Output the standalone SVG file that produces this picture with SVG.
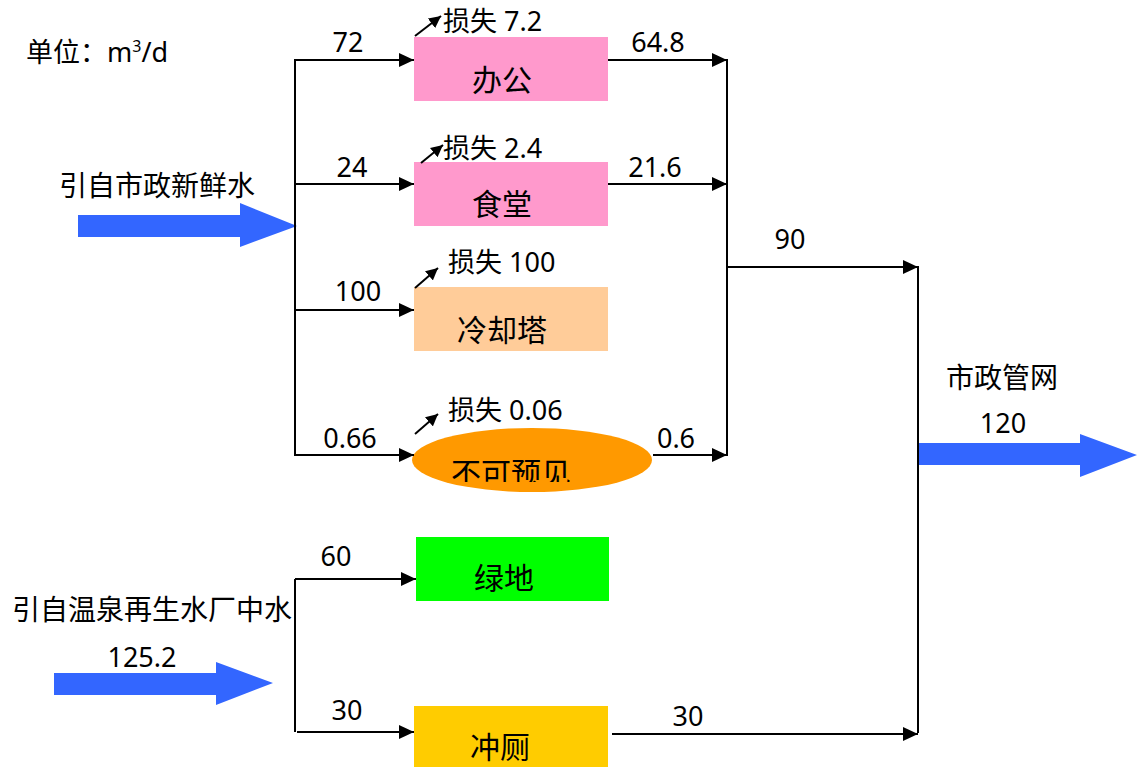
<svg xmlns="http://www.w3.org/2000/svg" width="1137" height="767" viewBox="0 0 1137 767">
<defs>
<marker id="ah" markerUnits="userSpaceOnUse" markerWidth="15" markerHeight="14" refX="15" refY="7" orient="auto"><path d="M0,0 L15,7 L0,14 z" fill="#000"/></marker>
<marker id="ahs" markerUnits="userSpaceOnUse" markerWidth="12" markerHeight="12" refX="12" refY="6" orient="auto"><path d="M0,0 L12,6 L0,12 z" fill="#000"/></marker>
<clipPath id="ellclip"><rect x="400" y="420" width="260" height="62"/></clipPath>
<style>
text{font-family:"Noto Sans","Noto Sans CJK SC",sans-serif;font-size:27px;fill:#000}
.cn{font-size:28px}
.bx{font-size:30px}
.box{stroke:none}
.ln{fill:none;stroke:#000;stroke-width:2}
.blue{fill:#3366FF}
.mid{text-anchor:middle}
</style>
</defs>
<rect width="1137" height="767" fill="#fff"/>

<text x="26" y="62" font-size="26">单位：m<tspan font-size="16" dy="-10">3</tspan><tspan dy="10">/d</tspan></text>

<g id="source-fresh">
<text x="59" y="196" class="cn">引自市政新鲜水</text>
<path class="blue" d="M78,215 L240,215 L240,203 L297,226 L240,247 L240,237 L78,237 z"/>
</g>

<g id="source-reclaimed">
<text x="12" y="620" class="cn">引自温泉再生水厂中水</text>
<text x="142" y="667" class="mid">125.2</text>
<path class="blue" d="M54,673 L216,673 L216,662 L273,683 L216,705 L216,695 L54,695 z"/>
</g>

<g id="sink-municipal">
<text x="1002" y="388" class="cn mid">市政管网</text>
<text x="1003" y="433" class="mid">120</text>
<path class="blue" d="M918,443 L1080,443 L1080,434 L1137,455 L1080,477 L1080,465 L918,465 z"/>
</g>

<g id="node-office">
<rect class="box" x="414" y="37" width="194" height="64" fill="#FF99CC"/>
<text x="502" y="91" class="bx mid">办公</text>
</g>
<g id="node-canteen">
<rect class="box" x="414" y="162" width="194" height="64" fill="#FF99CC"/>
<text x="502" y="215" class="bx mid">食堂</text>
</g>
<g id="node-cooling">
<rect class="box" x="414" y="287" width="194" height="64" fill="#FFCC99"/>
<text x="502" y="341" class="bx mid">冷却塔</text>
</g>
<g id="node-unforeseen">
<ellipse cx="532" cy="460" rx="120" ry="32" fill="#FF9900"/>
<text x="511" y="484" class="bx mid" clip-path="url(#ellclip)">不可预见</text>
</g>
<g id="node-green">
<rect class="box" x="416" y="537" width="193" height="64" fill="#00FF00"/>
<text x="504" y="589" class="bx mid">绿地</text>
</g>
<g id="node-toilet">
<rect class="box" x="414" y="706" width="194" height="64" fill="#FFCC00"/>
<text x="500" y="758" class="bx mid">冲厕</text>
</g>

<g id="connectors">
<path class="ln" d="M295,59 L295,456"/>
<path class="ln" d="M295,60 L414,60" marker-end="url(#ah)"/>
<path class="ln" d="M295,184 L414,184" marker-end="url(#ah)"/>
<path class="ln" d="M295,310 L414,310" marker-end="url(#ah)"/>
<path class="ln" d="M295,455 L414,455" marker-end="url(#ah)"/>

<path class="ln" d="M727,59 L727,456"/>
<path class="ln" d="M608,60 L727,60" marker-end="url(#ah)"/>
<path class="ln" d="M608,184 L727,184" marker-end="url(#ah)"/>
<path class="ln" d="M653,455 L727,455" marker-end="url(#ah)"/>
<path class="ln" d="M727,267 L918,267" marker-end="url(#ah)"/>
<path class="ln" d="M918,266 L918,733"/>
<path class="ln" d="M612,734 L918,734" marker-end="url(#ah)"/>

<path class="ln" d="M295,579 L295,732"/>
<path class="ln" d="M295,579 L416,579" marker-end="url(#ah)"/>
<path class="ln" d="M297,732 L414,732" marker-end="url(#ah)"/>

<path class="ln" d="M415,36 L441,16" marker-end="url(#ahs)"/>
<path class="ln" d="M421,163 L443,145" marker-end="url(#ahs)"/>
<path class="ln" d="M415,288 L438,268" marker-end="url(#ahs)"/>
<path class="ln" d="M415,434 L438,414" marker-end="url(#ahs)"/>

<text x="348" y="52" class="mid">72</text>
<text x="658" y="52" class="mid">64.8</text>
<text x="352" y="177" class="mid">24</text>
<text x="655" y="177" class="mid">21.6</text>
<text x="358" y="301" class="mid">100</text>
<text x="350" y="448" class="mid">0.66</text>
<text x="676" y="448" class="mid">0.6</text>
<text x="790" y="249" class="mid">90</text>
<text x="336" y="566" class="mid">60</text>
<text x="347" y="720" class="mid">30</text>
<text x="688" y="726" class="mid">30</text>

<text x="443" y="31">损失 7.2</text>
<text x="443" y="158">损失 2.4</text>
<text x="448" y="272">损失 100</text>
<text x="448" y="420">损失 0.06</text>
</g>
</svg>
